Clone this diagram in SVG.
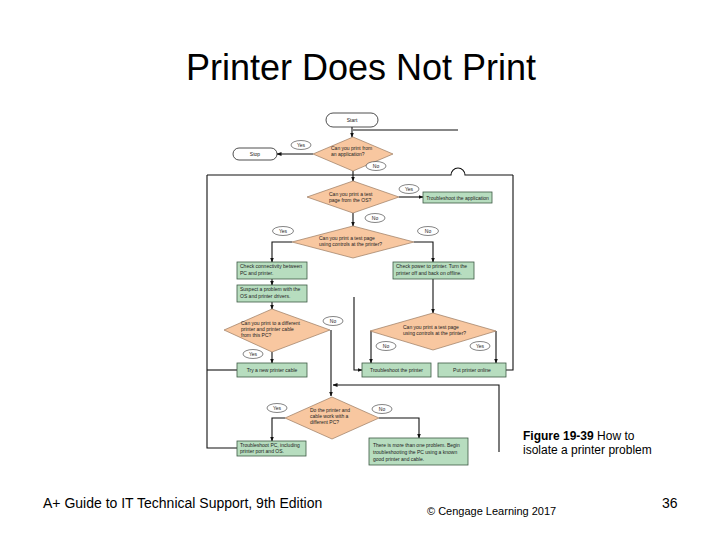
<svg xmlns="http://www.w3.org/2000/svg" width="720" height="540" viewBox="0 0 720 540">
<defs>
<marker id="arr" markerWidth="5" markerHeight="4" refX="4.5" refY="2" orient="auto" markerUnits="userSpaceOnUse"><path d="M0,0 L5,2 L0,4 Z" fill="#111"/></marker>
<style>
.t{font-family:"Liberation Sans",Arial,sans-serif;fill:#000}
.s{font-family:"Liberation Sans",Arial,sans-serif;font-size:5px;fill:#222}
.sc{font-family:"Liberation Sans",Arial,sans-serif;font-size:5px;fill:#222;text-anchor:middle}
.dia{fill:#F8C7A0;stroke:#9a7a60;stroke-width:0.7}
.box{fill:#B7DDBF;stroke:#3c5a44;stroke-width:0.8}
.term{fill:#fff;stroke:#222;stroke-width:0.8}
.lab{fill:#fff;stroke:#333;stroke-width:0.6}
.c{fill:none;stroke:#111;stroke-width:1.1}
</style>
</defs>
<rect width="720" height="540" fill="#fff"/>
<text class="t" x="361" y="80" font-size="36" text-anchor="middle">Printer Does Not Print</text>

<g id="connectors">
<path class="c" d="M352,127 V137" marker-end="url(#arr)"/>
<path class="c" d="M313,154 H277" marker-end="url(#arr)"/>
<path class="c" d="M353,130 H458"/>
<path class="c" d="M353,171 V181" marker-end="url(#arr)"/>
<path class="c" d="M207,175 H451 A7,7 0 0 1 465,175 H513"/>
<path class="c" d="M207,175 V448 H237"/>
<path class="c" d="M207,370 H237"/>
<path class="c" d="M513,175 V370 H506"/>
<path class="c" d="M399,197 H423" marker-end="url(#arr)"/>
<path class="c" d="M353,213 V226" marker-end="url(#arr)"/>
<path class="c" d="M292,242 H272 V262" marker-end="url(#arr)"/>
<path class="c" d="M414,242 H433 V262" marker-end="url(#arr)"/>
<path class="c" d="M272,279 V285" marker-end="url(#arr)"/>
<path class="c" d="M272,302 V309" marker-end="url(#arr)"/>
<path class="c" d="M433,279 V313" marker-end="url(#arr)"/>
<path class="c" d="M272,352 V363" marker-end="url(#arr)"/>
<path class="c" d="M331,330 V396" marker-end="url(#arr)"/>
<path class="c" d="M354,297 V370 H362" marker-end="url(#arr)"/>
<path class="c" d="M371,331 V363" marker-end="url(#arr)"/>
<path class="c" d="M496,331 V363" marker-end="url(#arr)"/>
<path class="c" d="M499,452 V385 H333" marker-end="url(#arr)"/>
<path class="c" d="M285,418 H272 V441" marker-end="url(#arr)"/>
<path class="c" d="M379,418 H419 V438" marker-end="url(#arr)"/>
</g>

<g id="start"><rect class="term" x="326" y="113" width="52" height="14" rx="7"/><text class="sc" x="352" y="122">Start</text></g>
<g id="stop"><rect class="term" x="233" y="148" width="44" height="12" rx="6"/><text class="sc" x="255" y="156">Stop</text></g>

<g id="d1"><polygon class="dia" points="353,137 393,154 353,171 313,154"/>
<text class="s" x="331" y="150">Can you print from</text><text class="s" x="331" y="156">an application?</text></g>
<g id="l1"><ellipse class="lab" cx="301" cy="145" rx="10" ry="4.5"/><text class="sc" x="301" y="147">Yes</text></g>
<g id="l2"><ellipse class="lab" cx="376" cy="166" rx="10" ry="4.5"/><text class="sc" x="376" y="168">No</text></g>

<g id="d2"><polygon class="dia" points="353,181 399,197 353,213 307,197"/>
<text class="s" x="329" y="196">Can you print a test</text><text class="s" x="329" y="202">page from the OS?</text></g>
<g id="l3"><ellipse class="lab" cx="409" cy="189" rx="10" ry="4.5"/><text class="sc" x="409" y="191">Yes</text></g>
<g id="app"><rect class="box" x="423" y="192" width="69" height="11"/><text class="sc" x="457.5" y="199.5">Troubleshoot the application</text></g>
<g id="l4"><ellipse class="lab" cx="375" cy="218" rx="10" ry="4.5"/><text class="sc" x="375" y="220">No</text></g>

<g id="d3"><polygon class="dia" points="353,226 414,242 353,258 292,242"/>
<text class="s" x="319" y="240">Can you print a test page</text><text class="s" x="319" y="246">using controls at the printer?</text></g>
<g id="l5"><ellipse class="lab" cx="283" cy="231" rx="10.5" ry="4.5"/><text class="sc" x="283" y="233">Yes</text></g>
<g id="l6"><ellipse class="lab" cx="428" cy="231" rx="10.5" ry="4.5"/><text class="sc" x="428" y="233">No</text></g>

<g id="conn"><rect class="box" x="237" y="262" width="70" height="17"/><text class="s" x="240" y="268">Check connectivity between</text><text class="s" x="240" y="275">PC and printer.</text></g>
<g id="suspect"><rect class="box" x="237" y="285" width="70" height="17"/><text class="s" x="240" y="291">Suspect a problem with the</text><text class="s" x="240" y="298">OS and printer drivers.</text></g>
<g id="power"><rect class="box" x="393" y="262" width="81" height="17"/><text class="s" x="396" y="268">Check power to printer. Turn the</text><text class="s" x="396" y="275">printer off and back on offline.</text></g>

<g id="d4"><polygon class="dia" points="272,309 330,330 272,352 224,330"/>
<text class="s" x="241" y="325">Can you print to a different</text><text class="s" x="241" y="331">printer and printer cable</text><text class="s" x="241" y="337">from this PC?</text></g>
<g id="l7"><ellipse class="lab" cx="333" cy="321" rx="10" ry="4.5"/><text class="sc" x="333" y="323">No</text></g>
<g id="l8"><ellipse class="lab" cx="253" cy="354" rx="10" ry="4.5"/><text class="sc" x="253" y="356">Yes</text></g>

<g id="d5"><polygon class="dia" points="433,313 496,331 433,350 370,331"/>
<text class="s" x="403" y="329">Can you print a test page</text><text class="s" x="403" y="335">using controls at the printer?</text></g>
<g id="l9"><ellipse class="lab" cx="386" cy="346" rx="10" ry="4.5"/><text class="sc" x="386" y="348">No</text></g>
<g id="l10"><ellipse class="lab" cx="480" cy="346" rx="10" ry="4.5"/><text class="sc" x="480" y="348">Yes</text></g>

<g id="cable"><rect class="box" x="237" y="363" width="70" height="14"/><text class="sc" x="272" y="371.5">Try a new printer cable</text></g>
<g id="tprinter"><rect class="box" x="362" y="363" width="69" height="14"/><text class="sc" x="396.5" y="371.5">Troubleshoot the printer</text></g>
<g id="online"><rect class="box" x="438" y="363" width="68" height="14"/><text class="sc" x="472" y="371.5">Put printer online</text></g>

<g id="d6"><polygon class="dia" points="332,397 379,418 332,439 285,418"/>
<text class="s" x="310" y="412">Do the printer and</text><text class="s" x="310" y="418">cable work with a</text><text class="s" x="310" y="424">different PC?</text></g>
<g id="l11"><ellipse class="lab" cx="277" cy="408" rx="10" ry="4.5"/><text class="sc" x="277" y="410">Yes</text></g>
<g id="l12"><ellipse class="lab" cx="382" cy="409" rx="10" ry="4.5"/><text class="sc" x="382" y="411">No</text></g>

<g id="tpc"><rect class="box" x="237" y="441" width="69" height="15"/><text class="s" x="240" y="447">Troubleshoot PC, including</text><text class="s" x="240" y="453">printer port and OS.</text></g>
<g id="more"><rect class="box" x="369" y="438" width="99" height="27"/><text class="s" x="373" y="447">There is more than one problem. Begin</text><text class="s" x="373" y="454">troubleshooting the PC using a known</text><text class="s" x="373" y="461">good printer and cable.</text></g>

<text class="t" x="523" y="440" font-size="12"><tspan font-weight="bold">Figure 19-39</tspan> How to</text>
<text class="t" x="523" y="454" font-size="12">isolate a printer problem</text>
<text class="t" x="43" y="508" font-size="14">A+ Guide to IT Technical Support, 9th Edition</text>
<text class="t" x="427" y="515" font-size="11">© Cengage Learning  2017</text>
<text class="t" x="662" y="508" font-size="14">36</text>
</svg>
